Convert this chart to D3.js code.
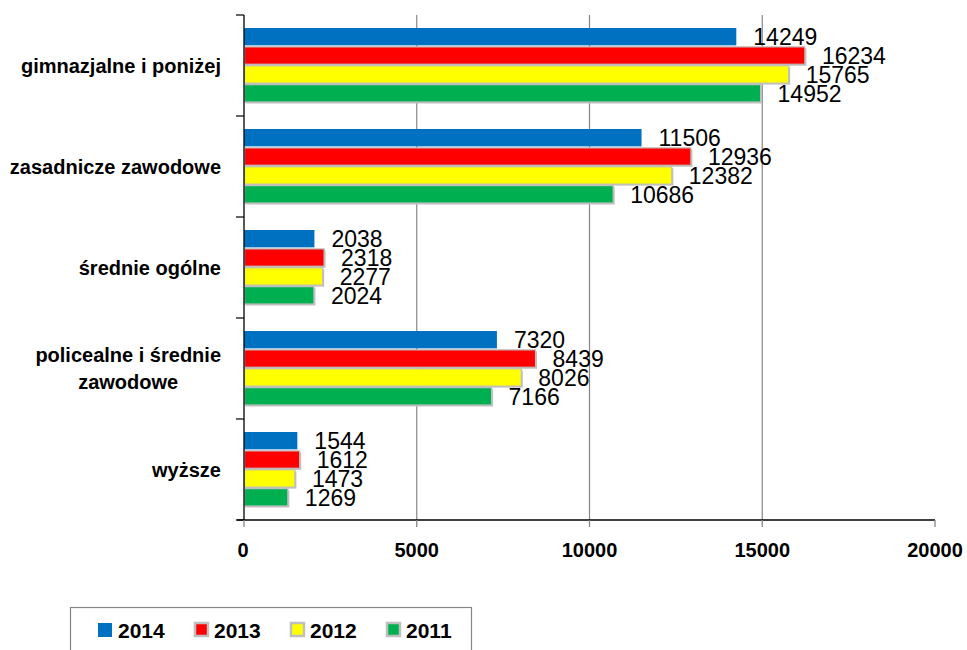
<!DOCTYPE html>
<html>
<head>
<meta charset="utf-8">
<script src="https://cdn.jsdelivr.net/npm/d3@7"></script>
<style>
  html, body { margin: 0; padding: 0; background: #fff; }
  svg { display: block; }
</style>
</head>
<body>
<svg id="chart" width="967" height="650"></svg>
<script>
const categories = [
  ["gimnazjalne i poniżej"],
  ["zasadnicze zawodowe"],
  ["średnie ogólne"],
  ["policealne i średnie", "zawodowe"],
  ["wyższe"]
];
const seriesNames = ["2014", "2013", "2012", "2011"];
const values2014 = [14249, 11506, 2038, 7320, 1544];
const values2013 = [16234, 12936, 2318, 8439, 1612];
const values2012 = [15765, 12382, 2277, 8026, 1473];
const values2011 = [14952, 10686, 2024, 7166, 1269];
const tickValues = [0, 5000, 10000, 15000, 20000];

const seriesValues = [values2014, values2013, values2012, values2011];
const colors = ["#0070C0", "#FF0000", "#FFFF00", "#00B050"];
const bordered = [false, true, true, true];
const catKeys = categories.map(c => c.join(" "));

const svg = d3.select("#chart");
const x = d3.scaleLinear().domain([0, 20000]).range([244, 935]);
const y = d3.scaleBand().domain(catKeys).range([15, 520]).padding(0);
const yInner = d3.scaleBand().domain(seriesNames).range([13, 87]).paddingInner(0.08);

// gridlines
svg.append("g").selectAll("line")
  .data(tickValues.filter(v => v > 0 && v < 20000))
  .join("line")
  .attr("x1", d => x(d)).attr("x2", d => x(d))
  .attr("y1", 15).attr("y2", 520)
  .attr("stroke", "#868686").attr("stroke-width", 1.2);

// bars
const groups = svg.append("g").selectAll("g")
  .data(catKeys)
  .join("g")
  .attr("transform", d => `translate(0,${y(d)})`);

seriesNames.forEach((s, si) => {
  groups.each(function(cat, ci) {
    const g = d3.select(this);
    const v = seriesValues[si][ci];
    const by = yInner(s);
    const bh = yInner.bandwidth();
    if (bordered[si]) {
      g.append("rect")
        .attr("x", x(0) + 1.5).attr("y", by + 1.5)
        .attr("width", x(v) - x(0)).attr("height", bh)
        .attr("fill", "#BFBFBF");
      g.append("rect")
        .attr("x", x(0) + 0.5).attr("y", by)
        .attr("width", x(v) - x(0) - 0.5).attr("height", bh)
        .attr("fill", colors[si])
        .attr("stroke", "#BFBFBF").attr("stroke-width", 1.2);
    } else {
      g.append("rect")
        .attr("x", x(0)).attr("y", by)
        .attr("width", x(v) - x(0)).attr("height", bh)
        .attr("fill", colors[si]);
    }
    g.append("text")
      .attr("x", x(v) + 17)
      .attr("y", by + bh / 2)
      .attr("dy", "0.36em")
      .attr("font-family", "'Liberation Sans', Arial, sans-serif")
      .attr("font-size", 23)
      .attr("fill", "#000")
      .text(v);
  });
});

// left axis
svg.append("line")
  .attr("x1", x(0)).attr("x2", x(0))
  .attr("y1", 15).attr("y2", 520)
  .attr("stroke", "#000").attr("stroke-width", 1.3);
const boundaries = catKeys.map(k => y(k)).concat([y.range()[1]]);
svg.append("g").selectAll("line")
  .data(boundaries)
  .join("line")
  .attr("x1", 236).attr("x2", x(0))
  .attr("y1", d => d).attr("y2", d => d)
  .attr("stroke", "#000").attr("stroke-width", 1.2);

// bottom axis
svg.append("line")
  .attr("x1", 237).attr("x2", x(20000))
  .attr("y1", 520).attr("y2", 520)
  .attr("stroke", "#000").attr("stroke-width", 1.3);
svg.append("g").selectAll("line")
  .data(tickValues)
  .join("line")
  .attr("x1", d => x(d)).attr("x2", d => x(d))
  .attr("y1", 520).attr("y2", 527)
  .attr("stroke", "#868686").attr("stroke-width", 1.3);
svg.append("g").selectAll("text")
  .data(tickValues)
  .join("text")
  .attr("x", d => x(d) - (d === 0 ? 1 : 0))
  .attr("y", 557)
  .attr("text-anchor", "middle")
  .attr("font-family", "'Liberation Sans', Arial, sans-serif")
  .attr("font-weight", "bold")
  .attr("font-size", 20)
  .attr("fill", "#000")
  .text(d => d);

// category labels
categories.forEach((lines, ci) => {
  const cy = y(catKeys[ci]) + y.bandwidth() / 2;
  const lh = 27;
  const g = svg.append("g");
  const texts = lines.map((ln, li) => g.append("text")
    .attr("y", cy + (li - (lines.length - 1) / 2) * lh)
    .attr("dy", "0.36em")
    .attr("font-family", "'Liberation Sans', Arial, sans-serif")
    .attr("font-weight", "bold")
    .attr("font-size", 20)
    .attr("fill", "#000")
    .text(ln));
  const widths = texts.map(t => t.node().getComputedTextLength());
  const maxW = d3.max(widths);
  const right = 221;
  texts.forEach((t, i) => {
    t.attr("text-anchor", "middle").attr("x", right - maxW / 2);
  });
});

// legend
const legend = svg.append("g");
legend.append("rect")
  .attr("x", 70.5).attr("y", 607.5)
  .attr("width", 401).attr("height", 60)
  .attr("fill", "#fff").attr("stroke", "#868686").attr("stroke-width", 1.2);
const lx = d3.scaleBand().domain(seriesNames).range([98, 482]);
seriesNames.forEach((s, si) => {
  const mx = lx(s);
  if (bordered[si]) {
    legend.append("rect")
      .attr("x", mx + 1).attr("y", 623)
      .attr("width", 13).attr("height", 13)
      .attr("fill", colors[si])
      .attr("stroke", "#BFBFBF").attr("stroke-width", 2.5);
  } else {
    legend.append("rect")
      .attr("x", mx).attr("y", 623)
      .attr("width", 14).attr("height", 14)
      .attr("fill", colors[si]);
  }
  legend.append("text")
    .attr("x", mx + 20)
    .attr("y", 637.5)
    .attr("font-family", "'Liberation Sans', Arial, sans-serif")
    .attr("font-weight", "bold")
    .attr("font-size", 21)
    .attr("fill", "#000")
    .text(s);
});
</script>
</body>
</html>
